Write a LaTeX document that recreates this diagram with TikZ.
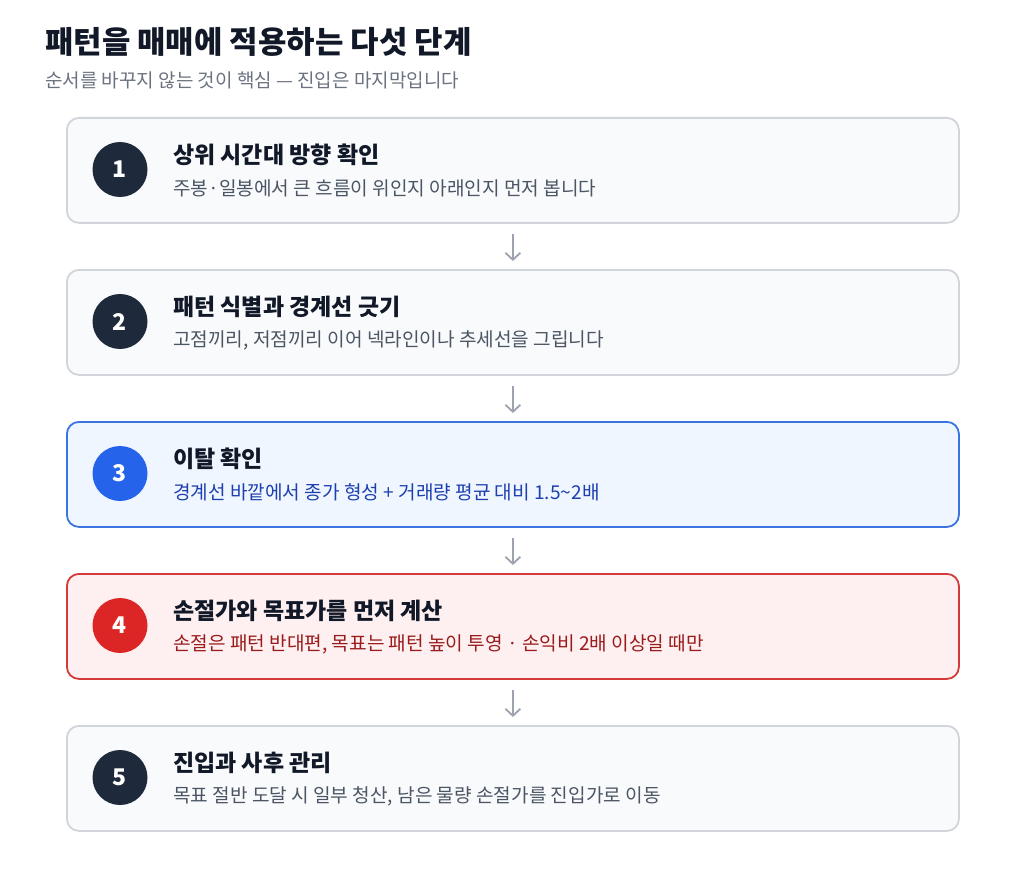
\documentclass[tikz,border=0pt]{standalone}
\usepackage{fontspec}
\setmainfont{Noto Sans CJK KR}
\usetikzlibrary{arrows.meta}
\definecolor{ink}{HTML}{111827}
\definecolor{subgray}{HTML}{6B7280}
\definecolor{descgray}{HTML}{4B5563}
\definecolor{boxfill}{HTML}{F8FAFC}
\definecolor{boxline}{HTML}{D1D5DB}
\definecolor{slate}{HTML}{1E293B}
\definecolor{bluefill}{HTML}{EFF6FF}
\definecolor{blueline}{HTML}{3B74E0}
\definecolor{bluecirc}{HTML}{2563EB}
\definecolor{bluetext}{HTML}{1E40AF}
\definecolor{redfill}{HTML}{FEF0F0}
\definecolor{redline}{HTML}{D33A3A}
\definecolor{redcirc}{HTML}{DC2626}
\definecolor{redtext}{HTML}{991B1B}
\definecolor{arrowgray}{HTML}{9CA3AF}
\tikzset{
  stepbox/.style={draw=boxline, fill=boxfill, line width=1.8pt, rounded corners=12pt,
    minimum width=892pt, minimum height=105pt, inner sep=0pt, anchor=north west},
  bluebox/.style={stepbox, draw=blueline, fill=bluefill},
  redbox/.style={stepbox, draw=redline, fill=redfill},
  numcirc/.style={circle, fill=slate, minimum size=55pt, inner sep=0pt, text=white,
    font=\fontsize{23}{26}\selectfont\bfseries},
  steptitle/.style={anchor=west, inner sep=0pt, text=ink, font=\fontsize{23}{26}\selectfont\bfseries},
  stepdesc/.style={anchor=west, inner sep=0pt, text=descgray, font=\fontsize{19.1}{22}\selectfont},
  flow/.style={draw=arrowgray, line width=1.8pt, -{Straight Barb[length=7pt,width=15pt]},
    shorten <=10pt, shorten >=8pt}
}
\begin{document}
\begin{tikzpicture}[x=1pt,y=-1pt]
\useasboundingbox[fill=white] (0,0) rectangle (1024,877);
\node[anchor=west, inner sep=0pt, text=ink, font=\fontsize{30.9}{34}\selectfont\bfseries] (title) at (45,42) {패턴을 매매에 적용하는 다섯 단계};
\node[anchor=west, inner sep=0pt, text=subgray, font=\fontsize{19}{22}\selectfont] (sub) at (45,80) {순서를 바꾸지 않는 것이 핵심 — 진입은 마지막입니다};

\node[stepbox] (b1) at (66,117) {};
\node[stepbox] (b2) at (66,269) {};
\node[bluebox] (b3) at (66,421) {};
\node[redbox] (b4) at (66,573) {};
\node[stepbox] (b5) at (66,725) {};

\node[numcirc] (c1) at (120,169.5) {1};
\node[numcirc] (c2) at (120,321.5) {2};
\node[numcirc, fill=bluecirc] (c3) at (120,473.5) {3};
\node[numcirc, fill=redcirc] (c4) at (120,625.5) {4};
\node[numcirc] (c5) at (120,777.5) {5};

\node[steptitle] (t1) at (173,155) {상위 시간대 방향 확인};
\node[stepdesc] (d1) at (173,188) {주봉·일봉에서 큰 흐름이 위인지 아래인지 먼저 봅니다};
\node[steptitle] (t2) at (173,307) {패턴 식별과 경계선 긋기};
\node[stepdesc] (d2) at (173,340) {고점끼리, 저점끼리 이어 넥라인이나 추세선을 그립니다};
\node[steptitle] (t3) at (173,459) {이탈 확인};
\node[stepdesc, text=bluetext] (d3) at (173,492) {경계선 바깥에서 종가 형성 + 거래량 평균 대비 1.5\textasciitilde 2배};
\node[steptitle] (t4) at (173,611) {손절가와 목표가를 먼저 계산};
\node[stepdesc, text=redtext] (d4) at (173,644) {손절은 패턴 반대편, 목표는 패턴 높이 투영 · 손익비 2배 이상일 때만};
\node[steptitle] (t5) at (173,763) {진입과 사후 관리};
\node[stepdesc] (d5) at (173,796) {목표 절반 도달 시 일부 청산, 남은 물량 손절가를 진입가로 이동};

\draw[flow] (b1.south) -- (b2.north);
\draw[flow] (b2.south) -- (b3.north);
\draw[flow] (b3.south) -- (b4.north);
\draw[flow] (b4.south) -- (b5.north);
\end{tikzpicture}
\end{document}
